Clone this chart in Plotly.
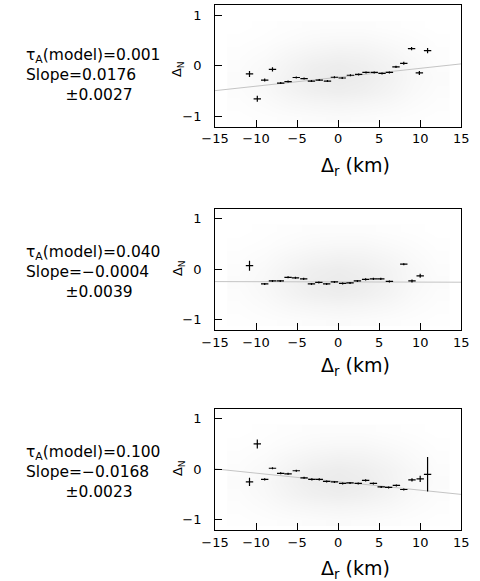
import plotly.graph_objects as go

W, H = 480, 581

# ---------------- data ----------------
p1_x = [-10.8, -9.85, -8.95, -8.0, -7.0, -6.1, -5.1, -4.15, -3.25, -2.3, -1.3, -0.45,
        0.5, 1.5, 2.5, 3.4, 4.4, 5.35, 6.25, 7.05, 8.0, 8.95, 9.9, 10.9]
p1_y = [-0.16, -0.65, -0.28, -0.07, -0.34, -0.31, -0.23, -0.25, -0.30, -0.28, -0.30, -0.225,
        -0.24, -0.185, -0.17, -0.13, -0.13, -0.15, -0.13, -0.02, 0.05, 0.34, -0.14, 0.30]
p1_err = [0.06, 0.06, 0.03, 0.04, 0.02, 0.02, 0.02, 0.02, 0.02, 0.02, 0.02, 0.02,
          0.02, 0.02, 0.02, 0.02, 0.02, 0.02, 0.02, 0.02, 0.03, 0.03, 0.04, 0.05]

p2_x = [-10.8, -8.95, -8.0, -7.05, -6.1, -5.2, -4.2, -3.25, -2.35, -1.4, -0.45,
        0.55, 1.45, 2.35, 3.35, 4.3, 5.2, 6.25, 8.0, 9.0, 10.0]
p2_y = [0.07, -0.29, -0.23, -0.23, -0.16, -0.17, -0.19, -0.29, -0.26, -0.29, -0.25,
        -0.28, -0.27, -0.23, -0.20, -0.19, -0.19, -0.24, 0.10, -0.23, -0.13]
p2_err = [0.1, 0.02, 0.02, 0.02, 0.02, 0.02, 0.02, 0.02, 0.02, 0.02, 0.02,
          0.02, 0.02, 0.02, 0.02, 0.02, 0.02, 0.02, 0.02, 0.03, 0.04]

p3_x = [-10.8, -9.85, -8.95, -8.0, -7.0, -6.1, -5.1, -4.15, -3.2, -2.3, -1.4, -0.45,
        0.55, 1.45, 2.45, 3.35, 4.3, 5.25, 6.15, 7.1, 8.0, 9.0, 10.0, 10.9]
p3_y = [-0.25, 0.50, -0.20, 0.02, -0.08, -0.09, -0.03, -0.17, -0.20, -0.20, -0.24, -0.25,
        -0.28, -0.27, -0.28, -0.22, -0.28, -0.35, -0.36, -0.32, -0.40, -0.21, -0.19, -0.10]
p3_err = [0.08, 0.09, 0.02, 0.02, 0.02, 0.02, 0.02, 0.02, 0.02, 0.02, 0.02, 0.02,
          0.02, 0.02, 0.02, 0.02, 0.02, 0.02, 0.02, 0.02, 0.02, 0.03, 0.06, 0.34]

bin_halfwidth = 0.45

tau_values = ["0.001", "0.040", "0.100"]
slope_text = ["0.0176", "\u22120.0004", "\u22120.0168"]
slope_err_text = ["0.0027", "0.0039", "0.0023"]
fit_slope = [0.0176, -0.0004, -0.0168]
fit_intercept = [-0.225, -0.25, -0.245]

x_ticks = [-15, -10, -5, 0, 5, 10, 15]
y_ticks = [-1, 0, 1]

cloud_x = [-12, -9, -6, -3, 0, 3, 6, 9, 12]
cloud_y = [-1.0, -0.75, -0.5, -0.25, 0.0, 0.25, 0.5, 0.75]
cloud_density = [
    [0.05, 0.10, 0.15, 0.20, 0.25, 0.20, 0.15, 0.10, 0.05],
    [0.10, 0.20, 0.35, 0.45, 0.50, 0.45, 0.35, 0.20, 0.10],
    [0.15, 0.30, 0.55, 0.75, 0.85, 0.75, 0.55, 0.30, 0.15],
    [0.20, 0.35, 0.65, 0.90, 1.00, 0.90, 0.65, 0.35, 0.20],
    [0.15, 0.30, 0.55, 0.80, 0.90, 0.80, 0.60, 0.35, 0.15],
    [0.10, 0.20, 0.40, 0.55, 0.65, 0.60, 0.45, 0.25, 0.10],
    [0.05, 0.10, 0.20, 0.30, 0.35, 0.35, 0.25, 0.15, 0.05],
    [0.00, 0.05, 0.10, 0.15, 0.15, 0.15, 0.10, 0.05, 0.00],
]

# ---------------- layout (pixel geometry) ----------------
panel_left, panel_right = 210.7, 468.7
panel_tops = [5.0, 208.5, 408.5]
panel_bottoms = [126.7, 330.0, 530.0]
title_y = [167, 366, 569]
ylabel_y = [69, 268, 468]
text_block_y = [75, 272, 472]

FONT = "DejaVu Sans"
NB = "\u00a0"


def px(x):
    return x / W


def py(y):
    return 1 - y / H


fig = go.Figure()
series = [(p1_x, p1_y, p1_err), (p2_x, p2_y, p2_err), (p3_x, p3_y, p3_err)]

for i, (xs, ys, es) in enumerate(series):
    sfx = "" if i == 0 else str(i + 1)
    xa, ya = "x" + sfx, "y" + sfx
    fig.add_trace(go.Heatmap(
        x=cloud_x, y=cloud_y, z=cloud_density, zmin=0, zmax=1, zsmooth="best",
        colorscale=[[0, "#ffffff"], [1, "#ebebeb"]], showscale=False,
        hoverinfo="skip", xaxis=xa, yaxis=ya))
    fx = [-15, 15]
    fy = [fit_intercept[i] + fit_slope[i] * v for v in fx]
    fig.add_trace(go.Scatter(x=fx, y=fy, mode="lines",
                             line=dict(color="#c4c4c4", width=1),
                             xaxis=xa, yaxis=ya, showlegend=False))
    fig.add_trace(go.Scatter(
        x=xs, y=ys, mode="markers",
        marker=dict(size=1, color="black"),
        error_x=dict(type="constant", value=bin_halfwidth, width=0, thickness=1.2, color="black"),
        error_y=dict(type="data", array=es, width=0, thickness=1.2, color="black"),
        xaxis=xa, yaxis=ya, showlegend=False))

    axis_common = dict(showline=True, linecolor="black", linewidth=1, mirror=True,
                       ticks="inside", ticklen=7, tickwidth=1, tickcolor="black",
                       showgrid=False, zeroline=False,
                       tickfont=dict(family=FONT, size=13, color="black"))
    fig.update_layout(**{
        "xaxis" + sfx: dict(domain=[px(panel_left), px(panel_right)], range=[-15, 15],
                            tickvals=x_ticks, anchor=ya, ticklabelstandoff=0, **axis_common),
        "yaxis" + sfx: dict(domain=[py(panel_bottoms[i]), py(panel_tops[i])], range=[-1.2, 1.2],
                            tickvals=y_ticks, anchor=xa, ticklabelstandoff=10, **axis_common),
    })

    fig.add_annotation(xref="paper", yref="paper", x=px(358), y=py(title_y[i]),
                       text="\u0394<sub>r</sub> (km)", showarrow=False,
                       xanchor="center", yanchor="middle",
                       font=dict(family=FONT, size=19, color="black"))
    fig.add_annotation(xref="paper", yref="paper", x=px(172), y=py(ylabel_y[i]),
                       text="\u0394<sub>N</sub>", showarrow=False, textangle=-90,
                       xanchor="center", yanchor="middle",
                       font=dict(family=FONT, size=13, color="black"))
    block = ("\u03c4<sub>A</sub>(model)=" + tau_values[i] + "<br>"
             + "Slope=" + slope_text[i] + "<br>"
             + NB * 8 + "\u00b1" + slope_err_text[i])
    fig.add_annotation(xref="paper", yref="paper", x=px(10), y=py(text_block_y[i]),
                       text=block, showarrow=False, xanchor="left", yanchor="middle",
                       align="left",
                       font=dict(family=FONT, size=15.5, color="black"))

fig.update_layout(width=W, height=H, margin=dict(l=0, r=0, t=0, b=0),
                  paper_bgcolor="white", plot_bgcolor="white", showlegend=False)

fig.write_html("out.html", config={"displayModeBar": False},
               post_script="document.body.style.margin='0';document.body.style.overflow='hidden';")
